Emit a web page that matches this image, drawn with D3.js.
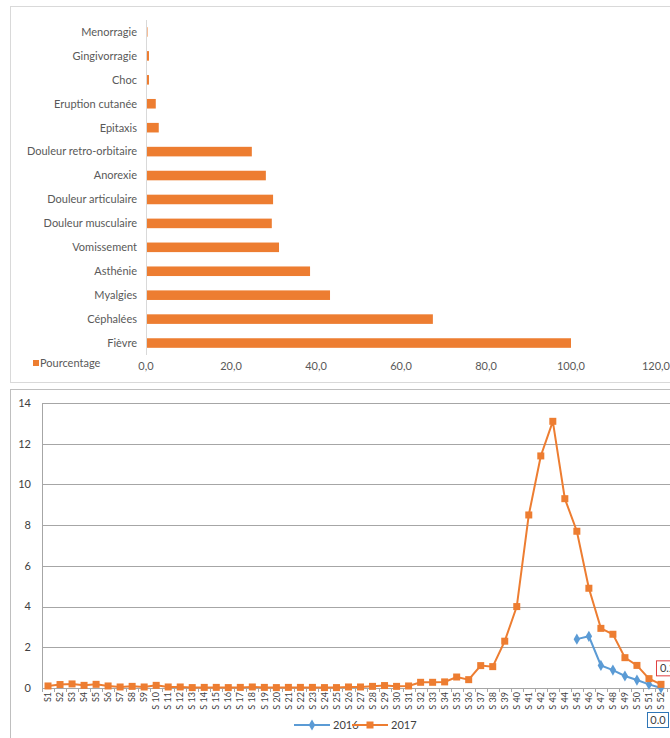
<!DOCTYPE html>
<html>
<head>
<meta charset="utf-8">
<script src="https://cdn.jsdelivr.net/npm/d3@7"></script>
<style>
  body { margin: 0; background: #fff; }
  svg { display: block; font-family: Lato, "Open Sans", sans-serif; }
</style>
</head>
<body>
<div id="chart"></div>
<script>
// symptomes (haut) -- ordre de haut en bas
let symptomes = ["Menorragie", "Gingivorragie", "Choc", "Eruption cutanée", "Epitaxis",
    "Douleur retro-orbitaire", "Anorexie", "Douleur articulaire", "Douleur musculaire",
    "Vomissement", "Asthénie", "Myalgies", "Céphalées", "Fièvre"];
let pourcentage = [0.3, 0.7, 0.7, 2.3, 3.0, 24.9, 28.2, 29.9, 29.6, 31.3, 38.6, 43.3, 67.5, 100.0];
let ticksPct = [0, 20, 40, 60, 80, 100, 120];

// semaines (bas)
let semaines = d3.range(1, 53).map(i => "S" + i);
let serie2017 = [0.1, 0.17, 0.2, 0.13, 0.18, 0.1, 0.05, 0.08, 0.05, 0.13, 0.05, 0.05, 0.02,
    0.03, 0.03, 0.02, 0.03, 0.05, 0.03, 0.02, 0.03, 0.03, 0.03, 0.02, 0.02, 0.05,
    0.05, 0.08, 0.12, 0.08, 0.1, 0.28, 0.28, 0.3, 0.54, 0.41, 1.1, 1.05, 2.3, 4.0,
    8.5, 11.4, 13.1, 9.3, 7.7, 4.9, 2.93, 2.64, 1.49, 1.11, 0.46, 0.18];
let serie2016 = [null, null, null, null, null, null, null, null, null, null, null, null, null,
    null, null, null, null, null, null, null, null, null, null, null, null, null,
    null, null, null, null, null, null, null, null, null, null, null, null, null, null,
    null, null, null, null, 2.4, 2.54, 1.11, 0.88, 0.59, 0.39, 0.18, 0.0];
let ticksCas = [0, 2, 4, 6, 8, 10, 12, 14];

let orange = "#ED7D31", bleu = "#5B9BD5";

let svg = d3.select("#chart").append("svg")
    .attr("width", 670)
    .attr("height", 738);

// cadres
svg.append("rect").attr("x", 10.5).attr("y", 6.5).attr("width", 670).attr("height", 376)
    .attr("fill", "none").attr("stroke", "#d9d9d9");
svg.append("rect").attr("x", 10.5).attr("y", 389.5).attr("width", 670).attr("height", 360)
    .attr("fill", "none").attr("stroke", "#bfbfbf");

// ---------- graphique 1 : barres horizontales ----------
let x1 = d3.scaleLinear().domain([0, 120]).range([146, 656]);
let y1 = d3.scaleBand().domain(symptomes).range([20, 355])
    .paddingInner(0.6).paddingOuter(0.3);

let g1 = svg.append("g");
g1.selectAll("rect.bar")
    .data(symptomes)
    .enter()
    .append("rect")
    .attr("class", "bar")
    .attr("x", x1(0))
    .attr("y", d => y1(d))
    .attr("width", (d, i) => Math.max(1.5, x1(pourcentage[i]) - x1(0)))
    .attr("height", y1.bandwidth())
    .style("fill", orange);

g1.append("line")
    .attr("x1", x1(0) + 0.5).attr("x2", x1(0) + 0.5)
    .attr("y1", 20).attr("y2", 355)
    .attr("stroke", "#d9d9d9");

g1.selectAll("text.cat")
    .data(symptomes)
    .enter()
    .append("text")
    .attr("class", "cat")
    .attr("x", 137)
    .attr("y", d => y1(d) + y1.bandwidth() / 2)
    .attr("dy", "0.35em")
    .attr("text-anchor", "end")
    .style("font-size", "11px")
    .style("fill", "#595959")
    .text(d => d);

g1.selectAll("text.tick")
    .data(ticksPct)
    .enter()
    .append("text")
    .attr("class", "tick")
    .attr("x", d => x1(d))
    .attr("y", 370)
    .attr("text-anchor", "middle")
    .style("font-size", "11px")
    .style("fill", "#595959")
    .text(d => d3.format(".1f")(d).replace(".", ","));

g1.append("rect").attr("x", 33).attr("y", 360).attr("width", 6).attr("height", 6).style("fill", orange);
g1.append("text").attr("x", 40).attr("y", 367)
    .style("font-size", "11px").style("fill", "#595959")
    .text("Pourcentage");

// ---------- graphique 2 : courbes hebdomadaires ----------
let x2 = d3.scaleBand().domain(semaines).range([42, 667]);
let y2 = d3.scaleLinear().domain([0, 14]).range([688, 403]);

let g2 = svg.append("g");
g2.selectAll("line.grid")
    .data(ticksCas)
    .enter()
    .append("line")
    .attr("class", "grid")
    .attr("x1", 42).attr("x2", 670)
    .attr("y1", d => Math.round(y2(d)) + 0.5)
    .attr("y2", d => Math.round(y2(d)) + 0.5)
    .attr("stroke", "#a6a6a6");

g2.append("line")
    .attr("x1", 42.5).attr("x2", 42.5).attr("y1", 403).attr("y2", 692)
    .attr("stroke", "#a6a6a6");

g2.selectAll("line.xt")
    .data(semaines)
    .enter()
    .append("line")
    .attr("class", "xt")
    .attr("x1", d => Math.round(x2(d) + x2.bandwidth()) + 0.5)
    .attr("x2", d => Math.round(x2(d) + x2.bandwidth()) + 0.5)
    .attr("y1", 688).attr("y2", 692)
    .attr("stroke", "#a6a6a6");

g2.selectAll("text.yt")
    .data(ticksCas)
    .enter()
    .append("text")
    .attr("class", "yt")
    .attr("x", 31)
    .attr("y", d => y2(d))
    .attr("dy", "0.35em")
    .attr("text-anchor", "end")
    .style("font-size", "11px")
    .style("fill", "#404040")
    .text(d => d);

g2.selectAll("text.xl")
    .data(semaines)
    .enter()
    .append("text")
    .attr("class", "xl")
    .attr("transform", d => "translate(" + (x2(d) + x2.bandwidth() / 2) + ",692) rotate(-90)")
    .attr("dy", "0.35em")
    .attr("text-anchor", "end")
    .style("font-size", "9px")
    .style("fill", "#404040")
    .text(d => d.length > 2 ? d.replace("S", "S ") : d);

let cx = (d, i) => x2(semaines[i]) + x2.bandwidth() / 2;
let ligne = d3.line()
    .defined(d => d !== null)
    .x((d, i) => cx(d, i))
    .y(d => y2(d));

g2.append("path").datum(serie2016).attr("d", ligne)
    .attr("fill", "none").attr("stroke", bleu).attr("stroke-width", 2);
g2.append("path").datum(serie2017).attr("d", ligne)
    .attr("fill", "none").attr("stroke", orange).attr("stroke-width", 2);

let diamant = d3.symbol().type(d3.symbolDiamond).size(36);
g2.selectAll("path.m16")
    .data(serie2016.map((v, i) => [v, i]).filter(d => d[0] !== null))
    .enter()
    .append("path")
    .attr("class", "m16")
    .attr("d", diamant)
    .attr("transform", d => "translate(" + cx(d[0], d[1]) + "," + y2(d[0]) + ")")
    .style("fill", bleu);

g2.selectAll("rect.m17")
    .data(serie2017)
    .enter()
    .append("rect")
    .attr("class", "m17")
    .attr("x", (d, i) => cx(d, i) - 3.5)
    .attr("y", d => y2(d) - 3.5)
    .attr("width", 7).attr("height", 7)
    .style("fill", orange);

// etiquettes de donnees S52
let dernier = semaines.length - 1;
let px = cx(null, dernier);
g2.append("rect").attr("x", px - 4.5).attr("y", y2(serie2017[dernier]) - 23.5)
    .attr("width", 24).attr("height", 15)
    .attr("fill", "#fff").attr("stroke", "#e04040");
g2.append("text").attr("x", px - 1).attr("y", y2(serie2017[dernier]) - 12)
    .style("font-size", "11px").style("fill", "#404040")
    .text(serie2017[dernier].toFixed(1));
g2.append("rect").attr("x", px - 13.5).attr("y", y2(serie2016[dernier]) + 24.5)
    .attr("width", 21).attr("height", 15)
    .attr("fill", "#fff").attr("stroke", "#2e75b6");
g2.append("text").attr("x", px - 3).attr("y", y2(serie2016[dernier]) + 36)
    .attr("text-anchor", "middle")
    .style("font-size", "11px").style("fill", "#404040")
    .text(serie2016[dernier].toFixed(1));

// legende
let leg = g2.append("g");
leg.append("line").attr("x1", 294).attr("x2", 330).attr("y1", 725).attr("y2", 725)
    .attr("stroke", bleu).attr("stroke-width", 2);
leg.append("path").attr("d", diamant).attr("transform", "translate(312,725)").style("fill", bleu);
leg.append("text").attr("x", 333).attr("y", 729).style("font-size", "11px").style("fill", "#404040").text("2016");
leg.append("line").attr("x1", 352).attr("x2", 388).attr("y1", 725).attr("y2", 725)
    .attr("stroke", orange).attr("stroke-width", 2);
leg.append("rect").attr("x", 366.5).attr("y", 721.5).attr("width", 7).attr("height", 7).style("fill", orange);
leg.append("text").attr("x", 391).attr("y", 729).style("font-size", "11px").style("fill", "#404040").text("2017");
</script>
</body>
</html>
